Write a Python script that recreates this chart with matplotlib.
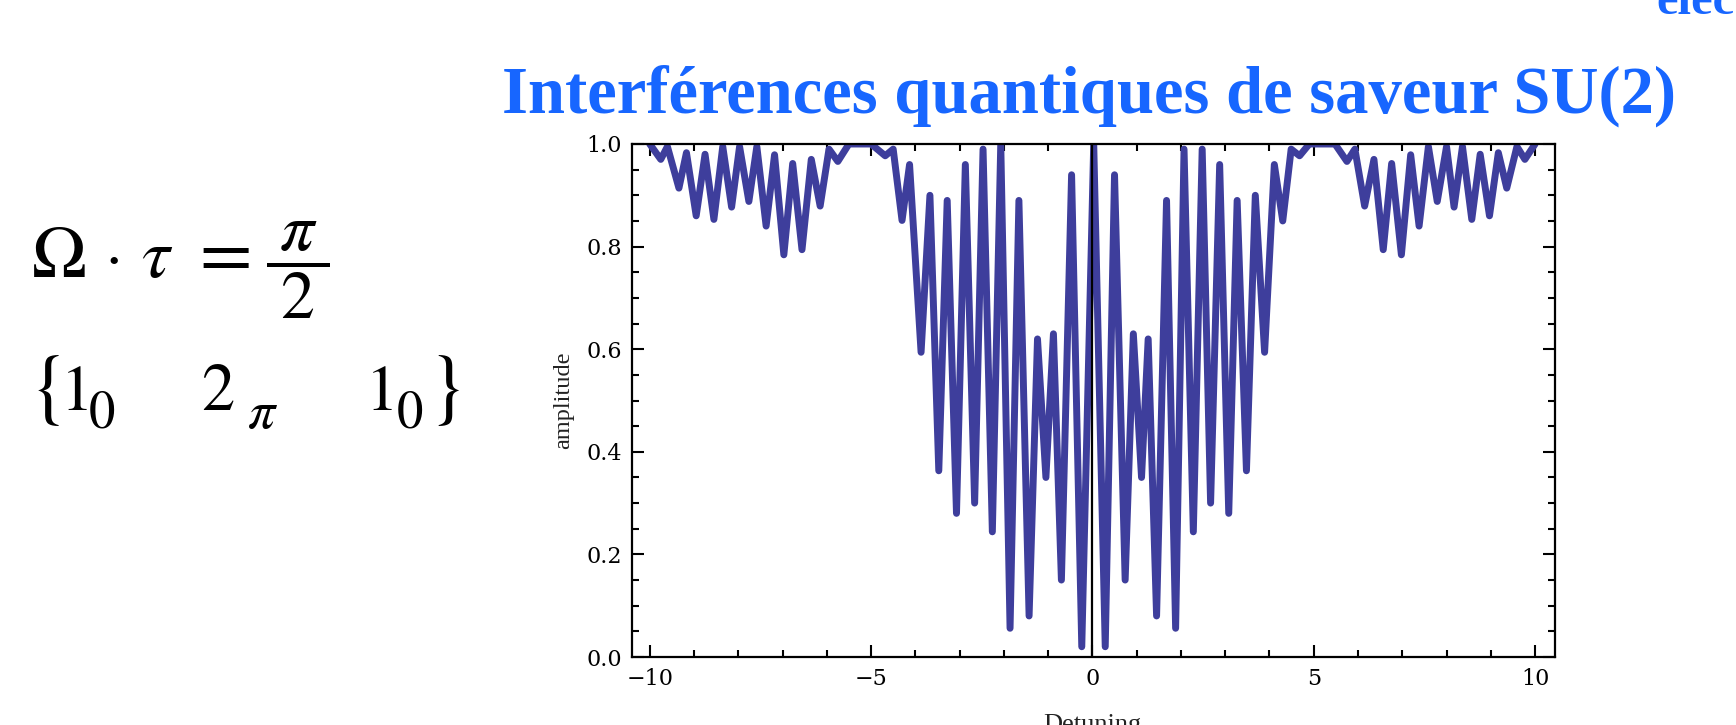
import numpy as np
import matplotlib
matplotlib.use("Agg")
import matplotlib.pyplot as plt
from matplotlib.ticker import MultipleLocator, FormatStrFormatter

# Values (turning points of the curve)
detuning = [
    -10.0, -9.75, -9.6, -9.34, -9.17, -8.95, -8.75, -8.55, -8.35, -8.15,
    -7.97, -7.76, -7.58, -7.37, -7.18, -6.97, -6.77, -6.56, -6.35, -6.15,
    -5.95, -5.75, -5.5, -5.0, -4.68, -4.5, -4.30, -4.13, -3.87, -3.67,
    -3.47, -3.28, -3.07, -2.87, -2.66, -2.47, -2.26, -2.07, -1.86, -1.66,
    -1.43, -1.24, -1.05, -0.88, -0.70, -0.47, -0.24, 0.03, 0.29, 0.50,
    0.74, 0.925, 1.11, 1.26, 1.45, 1.675, 1.88, 2.07, 2.28, 2.48,
    2.67, 2.875, 3.08, 3.27, 3.48, 3.68, 3.89, 4.11, 4.30, 4.49,
    4.68, 4.9, 5.48, 5.75, 5.93, 6.15, 6.36, 6.57, 6.76, 6.98,
    7.19, 7.38, 7.59, 7.79, 8.0, 8.17, 8.36, 8.57, 8.76, 8.97,
    9.17, 9.36, 9.59, 9.77, 10.0,
]
amplitude = [
    1.0, 0.97, 0.995, 0.914, 0.983, 0.86, 0.98, 0.853, 0.995, 0.877,
    0.995, 0.888, 0.995, 0.84, 0.979, 0.784, 0.962, 0.794, 0.97, 0.879,
    0.99, 0.966, 1.0, 1.0, 0.977, 0.99, 0.851, 0.96, 0.594, 0.90,
    0.363, 0.89, 0.28, 0.96, 0.30, 0.99, 0.244, 1.0, 0.056, 0.89,
    0.08, 0.62, 0.35, 0.63, 0.15, 0.94, 0.02, 1.0, 0.02, 0.94,
    0.15, 0.63, 0.35, 0.62, 0.08, 0.89, 0.056, 0.99, 0.244, 0.99,
    0.30, 0.96, 0.28, 0.89, 0.363, 0.90, 0.594, 0.96, 0.85, 0.99,
    0.977, 1.0, 1.0, 0.966, 0.99, 0.879, 0.97, 0.794, 0.962, 0.784,
    0.979, 0.84, 0.995, 0.888, 0.995, 0.877, 0.995, 0.853, 0.98, 0.86,
    0.983, 0.914, 0.995, 0.97, 1.0,
]

title = "Interférences quantiques de saveur SU(2)"

plt.rcParams['mathtext.fontset'] = 'stix'

W, H = 1736, 725
fig = plt.figure(figsize=(W / 100, H / 100), dpi=100)


def px(x, y):
    # pixel position (from top-left) -> figure fraction
    return x / W, 1 - y / H


# axes box in pixels: left 632, right 1555, top 144, bottom 657
ax = fig.add_axes([632 / W, 1 - 657 / H, (1555 - 632) / W, (657 - 144) / H])

ax.plot(detuning, amplitude, color='#3e3e9c', lw=5,
        solid_joinstyle='round', solid_capstyle='round')
ax.axvline(0, color='black', lw=1.6, zorder=3)

ax.set_xlim(-10.4, 10.45)
ax.set_ylim(0, 1.0)

ax.xaxis.set_major_locator(MultipleLocator(5))
ax.xaxis.set_minor_locator(MultipleLocator(1))
ax.yaxis.set_major_locator(MultipleLocator(0.2))
ax.yaxis.set_minor_locator(MultipleLocator(0.05))
ax.yaxis.set_major_formatter(FormatStrFormatter('%.1f'))

ax.tick_params(which='both', direction='in', top=True, right=True,
               width=1.5, colors='black')
ax.tick_params(which='major', length=8.5, labelsize=16)
ax.tick_params(which='minor', length=5)
ax.tick_params(axis='x', which='major', pad=8)
ax.tick_params(axis='y', which='major', pad=7)
for lab in ax.get_xticklabels() + ax.get_yticklabels():
    lab.set_fontfamily('DejaVu Serif')
for sp in ax.spines.values():
    sp.set_linewidth(1.6)

fig.text(*px(564, 400), "amplitude", rotation=90, ha='center',
         va='center', fontsize=17.5, family='Liberation Serif', color='#222222')
fig.text(*px(1092, 731), "Detuning", ha='center', va='baseline',
         fontsize=19, family='Liberation Serif', color='#222222')

fig.text(*px(1089, 113), title, ha='center', va='baseline',
         fontsize=48, fontweight='bold', family='Liberation Serif',
         color='#1766ff')
fig.text(*px(1656, 14), "elec", ha='left', va='baseline',
         fontsize=35, fontweight='bold', family='Liberation Serif',
         color='#1766ff')

# formula, first row: Omega . tau = pi / 2
fs = 47
row1 = 277
fig.text(*px(31, row1), r'$\Omega$', ha='left', va='baseline', fontsize=fs + 6)
fig.text(*px(105, row1), '\u00b7', ha='left', va='baseline', fontsize=fs,
         family='STIXGeneral')
fig.text(*px(141, row1), r'$\tau$', ha='left', va='baseline', fontsize=fs + 4)
fig.text(*px(199, row1), '=', ha='left', va='baseline', fontsize=fs + 8,
         family='STIXGeneral')
fig.text(*px(266, row1), r'$\dfrac{\;\pi\;}{2}$', ha='left', va='baseline',
         fontsize=fs + 2)

# second row: {1_0  2_pi  1_0}
row2 = 410
sub = 428
fig.text(*px(29, 389), r'$\{$', ha='left', va='center', fontsize=fs + 12)
fig.text(*px(61, row2), '1', ha='left', va='baseline', fontsize=fs,
         family='STIXGeneral')
fig.text(*px(89, sub), '0', ha='left', va='baseline', fontsize=fs - 9,
         family='STIXGeneral')
fig.text(*px(201, row2), '2', ha='left', va='baseline', fontsize=fs + 1,
         family='STIXGeneral')
fig.text(*px(247, sub), r'$\pi$', ha='left', va='baseline', fontsize=fs - 8)
fig.text(*px(366, row2), '1', ha='left', va='baseline', fontsize=fs,
         family='STIXGeneral')
fig.text(*px(397, sub), '0', ha='left', va='baseline', fontsize=fs - 9,
         family='STIXGeneral')
fig.text(*px(427, 389), r'$\}$', ha='left', va='center', fontsize=fs + 12)

fig.savefig("out.png", dpi=100)
